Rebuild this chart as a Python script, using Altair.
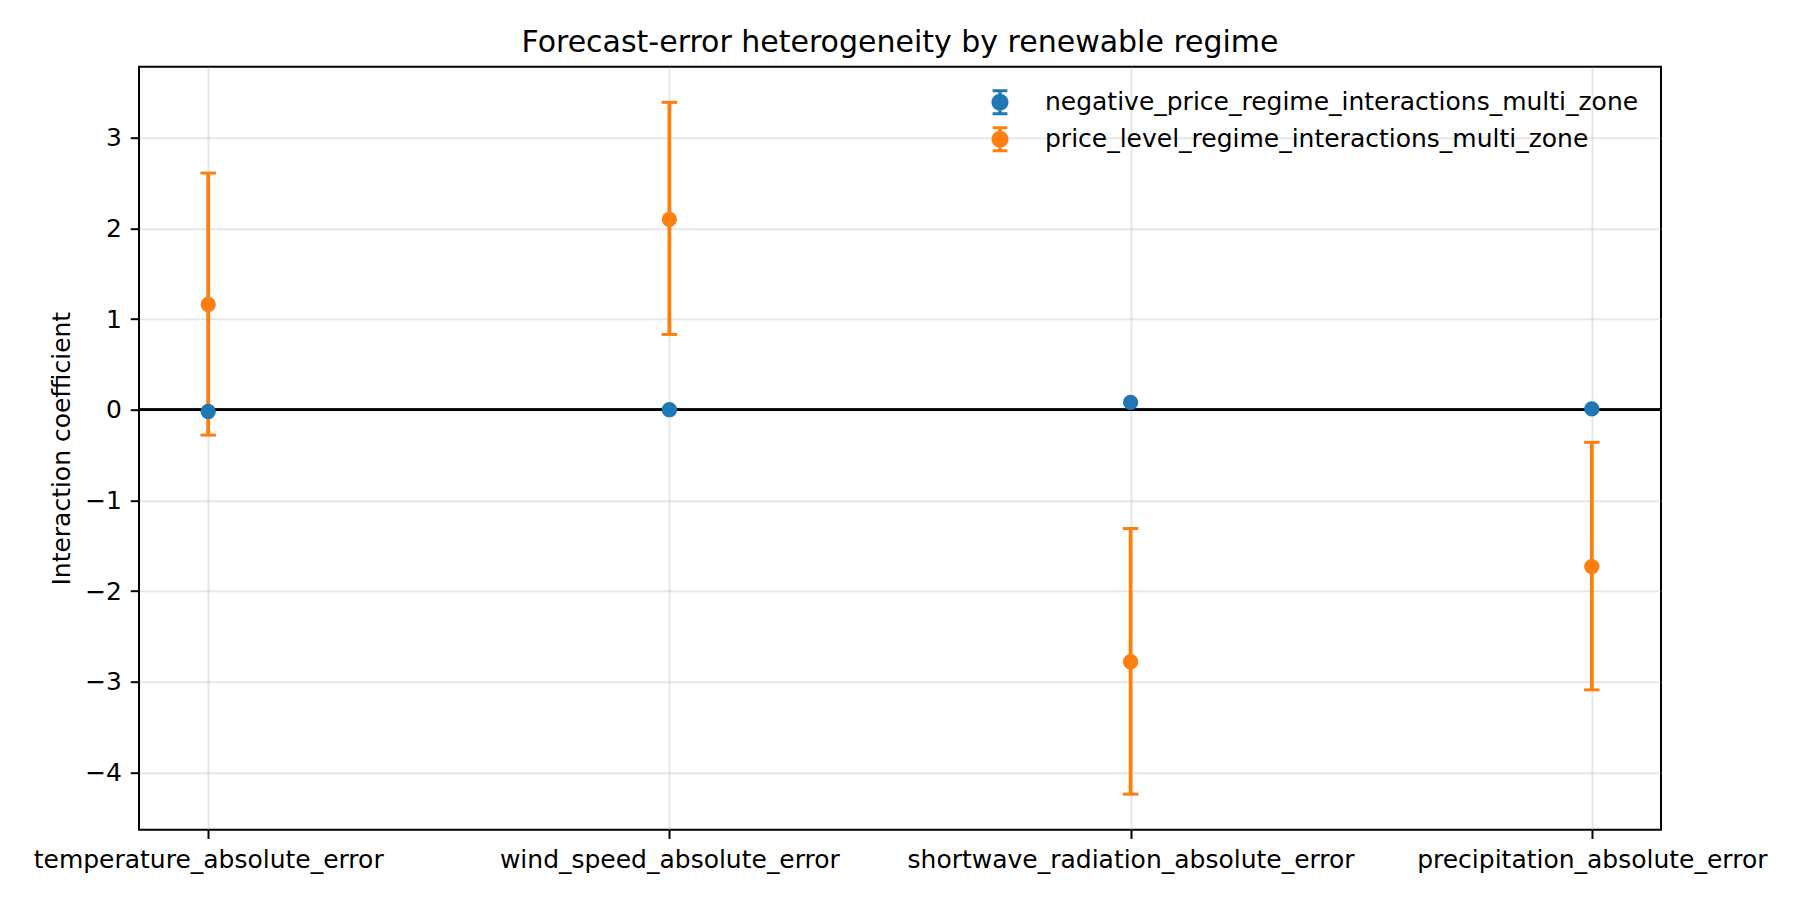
import altair as alt
import pandas as pd

# ---- data ----
categories = [
    "temperature_absolute_error",
    "wind_speed_absolute_error",
    "shortwave_radiation_absolute_error",
    "precipitation_absolute_error",
]
series_names = [
    "negative_price_regime_interactions_multi_zone",
    "price_level_regime_interactions_multi_zone",
]
neg_coef = [-0.02, 0.00, 0.08, 0.01]
price_coef = [1.16, 2.10, -2.78, -1.73]
price_lo = [-0.28, 0.83, -4.24, -3.09]
price_hi = [2.61, 3.39, -1.31, -0.36]
y_ticks = [-4, -3, -2, -1, 0, 1, 2, 3]
colors = ["#1f77b4", "#ff7f0e"]

FONT = "DejaVu Sans"
FS = 25

points = pd.DataFrame({
    "category": categories * 2,
    "series": [series_names[1]] * 4 + [series_names[0]] * 4,
    "coef": price_coef + neg_coef,
})
err = pd.DataFrame({"category": categories, "lo": price_lo, "hi": price_hi})
caps = pd.DataFrame({"category": categories * 2, "v": price_lo + price_hi})

W, H = 1522, 763

x_enc = alt.X(
    "category:N",
    sort=categories,
    scale=alt.Scale(type="point", padding=0.15),
    axis=alt.Axis(
        title=None, labelAngle=0, grid=True, domain=False, labelLimit=0,
        labelFont=FONT, labelFontSize=FS, labelColor="black",
        tickColor="black", tickWidth=2, tickSize=8.75, labelPadding=8.75,
        gridColor="#b0b0b0", gridOpacity=0.3, gridWidth=2,
    ),
)
y_scale = alt.Scale(domain=[-4.632, 3.783], nice=False, zero=False)
y_axis = alt.Axis(
    title="Interaction coefficient", values=y_ticks, format="d", grid=True,
    domain=False, labelFont=FONT, labelFontSize=FS, labelColor="black",
    tickColor="black", tickWidth=2, tickSize=8.75, labelPadding=8.75,
    gridColor="#b0b0b0", gridOpacity=0.3, gridWidth=2,
    titleFont=FONT, titleFontSize=FS, titleFontWeight="normal",
    titleColor="black", titleX=-78, titleY=H / 2, titleAngle=270,
    titleAlign="center", titleBaseline="middle",
)

base_y = alt.Y("coef:Q", scale=y_scale, axis=y_axis)

zero = alt.Chart(points).mark_rule(color="black", strokeWidth=2).encode(
    y=alt.datum(0, scale=y_scale)
)

bars = alt.Chart(err).mark_rule(color=colors[1], strokeWidth=3.8).encode(
    x=x_enc,
    y=alt.Y("lo:Q", scale=y_scale, axis=y_axis),
    y2="hi:Q",
)

cap_marks = alt.Chart(caps).mark_tick(
    color=colors[1], size=15.5, thickness=3, opacity=1
).encode(
    x=x_enc,
    y=alt.Y("v:Q", scale=y_scale, axis=y_axis),
)

sym = (
    "M -0.654 0 A 0.654 0.654 0 1 1 0.654 0 A 0.654 0.654 0 1 1 -0.654 0 Z "
    "M -0.125 -1 L 0.125 -1 L 0.125 1 L -0.125 1 Z "
    "M -0.57 -1 L 0.57 -1 L 0.57 -0.77 L -0.57 -0.77 Z "
    "M -0.57 0.77 L 0.57 0.77 L 0.57 1 L -0.57 1 Z"
)

dots = alt.Chart(points).mark_circle(size=235, opacity=1).encode(
    x=x_enc,
    y=base_y,
    color=alt.Color(
        "series:N",
        scale=alt.Scale(domain=series_names, range=colors),
        legend=alt.Legend(
            title=None, orient="none", legendX=848, legendY=22.5,
            symbolType=sym, symbolSize=676, symbolStrokeWidth=0,
            labelFont=FONT, labelFontSize=FS, labelColor="black",
            labelOffset=32, rowPadding=11, padding=0, labelLimit=0,
        ),
    ),
    order=alt.Order("series:N", sort="descending"),
)

chart = alt.layer(zero, bars, cap_marks, dots).properties(
    width=W,
    height=H,
    title=alt.TitleParams(
        "Forecast-error heterogeneity by renewable regime",
        font=FONT, fontSize=30, fontWeight="normal", color="black",
        anchor="middle", frame="group", offset=9, baseline="bottom", dy=30,
    ),
    autosize=alt.AutoSizeParams(type="none"),
    padding={"left": 131, "top": 58.7, "right": 131, "bottom": 62},
    background="white",
).configure_view(
    stroke="black", strokeWidth=2
)

chart.save("out.html", embed_options={"renderer": "svg", "actions": False})
